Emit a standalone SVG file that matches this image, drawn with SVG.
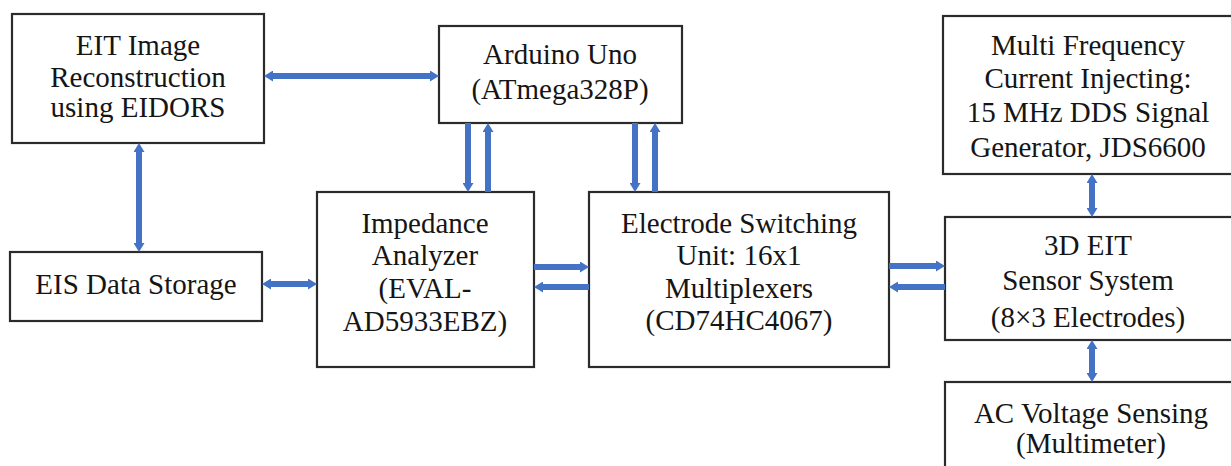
<svg xmlns="http://www.w3.org/2000/svg" width="1231" height="466" viewBox="0 0 1231 466">
<style>
.box{fill:#fff;stroke:#2b2b2b;stroke-width:2.2}
.t{font-size:29px;fill:#151515;text-anchor:middle}
.c{stroke:#4472c4;stroke-width:6;fill:none}
</style>
<defs>
<marker id="ah" viewBox="0 0 9 11" refX="1" refY="5.5" markerWidth="9" markerHeight="11" markerUnits="userSpaceOnUse" orient="auto-start-reverse">
<path d="M0,0 L9,5.5 L0,11 z" fill="#4472c4"/>
</marker>
</defs>
<rect width="1231" height="466" fill="#fff"/>
<g font-family="'Liberation Serif', 'Times New Roman', Tinos, 'DejaVu Serif', serif">
<g id="eit-recon">
<rect class="box" x="12" y="14" width="252" height="129"/>
<text class="t" x="138" y="55">EIT Image</text>
<text class="t" x="138" y="87">Reconstruction</text>
<text class="t" x="138" y="117">using EIDORS</text>
</g>
<g id="arduino">
<rect class="box" x="439" y="26" width="243" height="97"/>
<text class="t" x="560" y="64">Arduino Uno</text>
<text class="t" x="560" y="99">(ATmega328P)</text>
</g>
<g id="multi-freq">
<rect class="box" x="943" y="16" width="310" height="158"/>
<text class="t" x="1088" y="55">Multi Frequency</text>
<text class="t" x="1088" y="88">Current Injecting:</text>
<text class="t" x="1088" y="122">15 MHz DDS Signal</text>
<text class="t" x="1088" y="157">Generator, JDS6600</text>
</g>
<g id="eis-storage">
<rect class="box" x="10" y="252" width="252" height="69"/>
<text class="t" x="136" y="294">EIS Data Storage</text>
</g>
<g id="impedance">
<rect class="box" x="317" y="192" width="217" height="175"/>
<text class="t" x="425" y="233">Impedance</text>
<text class="t" x="425" y="265">Analyzer</text>
<text class="t" x="425" y="298">(EVAL-</text>
<text class="t" x="425" y="331">AD5933EBZ)</text>
</g>
<g id="electrode">
<rect class="box" x="589" y="192" width="300" height="175"/>
<text class="t" x="739" y="233">Electrode Switching</text>
<text class="t" x="739" y="265">Unit: 16x1</text>
<text class="t" x="739" y="298">Multiplexers</text>
<text class="t" x="739" y="330">(CD74HC4067)</text>
</g>
<g id="sensor">
<rect class="box" x="945" y="217" width="310" height="123"/>
<text class="t" x="1088" y="255">3D EIT</text>
<text class="t" x="1088" y="290">Sensor System</text>
<text class="t" x="1088" y="327">(8×3 Electrodes)</text>
</g>
<g id="ac-voltage">
<rect class="box" x="945" y="382" width="310" height="110"/>
<text class="t" x="1091" y="423">AC Voltage Sensing</text>
<text class="t" x="1091" y="453">(Multimeter)</text>
</g>
</g>
<g id="connectors">
<line class="c" x1="272" y1="76" x2="431" y2="76" marker-start="url(#ah)" marker-end="url(#ah)"/>
<line class="c" x1="139" y1="151" x2="139" y2="244" marker-start="url(#ah)" marker-end="url(#ah)"/>
<line class="c" x1="270" y1="284" x2="309" y2="284" marker-start="url(#ah)" marker-end="url(#ah)"/>
<line class="c" x1="468" y1="123" x2="468" y2="184" marker-end="url(#ah)"/>
<line class="c" x1="488" y1="192" x2="488" y2="131" marker-end="url(#ah)"/>
<line class="c" x1="635" y1="123" x2="635" y2="184" marker-end="url(#ah)"/>
<line class="c" x1="655" y1="192" x2="655" y2="131" marker-end="url(#ah)"/>
<line class="c" x1="534" y1="267" x2="581" y2="267" marker-end="url(#ah)"/>
<line class="c" x1="589" y1="287" x2="542" y2="287" marker-end="url(#ah)"/>
<line class="c" x1="889" y1="266" x2="937" y2="266" marker-end="url(#ah)"/>
<line class="c" x1="945" y1="287" x2="897" y2="287" marker-end="url(#ah)"/>
<line class="c" x1="1092" y1="182" x2="1092" y2="209" marker-start="url(#ah)" marker-end="url(#ah)"/>
<line class="c" x1="1092" y1="348" x2="1092" y2="374" marker-start="url(#ah)" marker-end="url(#ah)"/>
</g>
</svg>
